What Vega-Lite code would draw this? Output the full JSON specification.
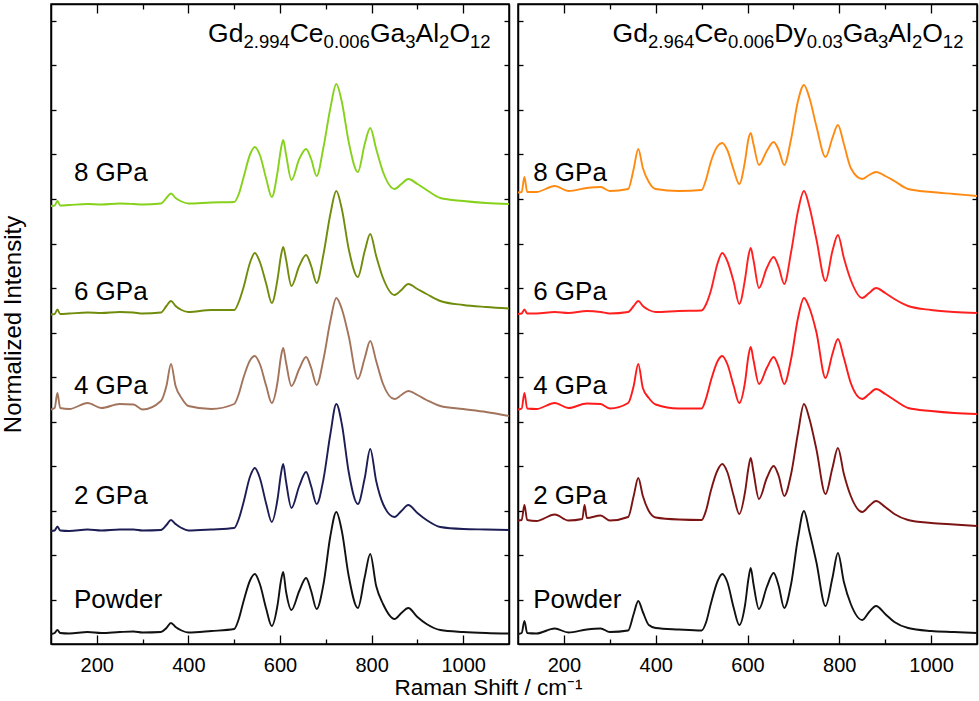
{
  "$schema": "https://vega.github.io/schema/vega-lite/v6.json",
  "padding": {"left": 0, "top": 2, "right": 3, "bottom": 0},
  "config": {
    "font": "Liberation Sans",
    "view": {"stroke": "black", "strokeWidth": 1.5},
    "axis": {
      "domainColor": "black", "domainWidth": 1.5, "tickColor": "black", "tickWidth": 1.3,
      "grid": false, "labelColor": "black", "titleColor": "black", "titleFontWeight": "normal",
      "labelFontSize": 20, "titleFontSize": 23, "labelFlush": false
    }
  },
  "datasets": {
    "left": [
      {"series":"Powder","x":100,"y":10},{"series":"Powder","x":108,"y":11},{"series":"Powder","x":114,"y":14},{"series":"Powder","x":120,"y":11},{"series":"Powder","x":140,"y":10.5},{"series":"Powder","x":180,"y":12},{"series":"Powder","x":210,"y":11},{"series":"Powder","x":250,"y":12},{"series":"Powder","x":280,"y":12.5},{"series":"Powder","x":300,"y":11.5},{"series":"Powder","x":340,"y":12},{"series":"Powder","x":352,"y":16},{"series":"Powder","x":362,"y":21},{"series":"Powder","x":372,"y":17},{"series":"Powder","x":385,"y":13.5},{"series":"Powder","x":400,"y":11.5},{"series":"Powder","x":450,"y":13},{"series":"Powder","x":500,"y":15},{"series":"Powder","x":510,"y":25},{"series":"Powder","x":520,"y":42},{"series":"Powder","x":535,"y":64},{"series":"Powder","x":545,"y":70},{"series":"Powder","x":556,"y":60},{"series":"Powder","x":570,"y":35},{"series":"Powder","x":582,"y":18},{"series":"Powder","x":595,"y":40},{"series":"Powder","x":602,"y":63},{"series":"Powder","x":607,"y":72},{"series":"Powder","x":613,"y":53},{"series":"Powder","x":625,"y":34},{"series":"Powder","x":642,"y":53},{"series":"Powder","x":657,"y":66},{"series":"Powder","x":668,"y":53},{"series":"Powder","x":680,"y":35},{"series":"Powder","x":695,"y":60},{"series":"Powder","x":710,"y":108},{"series":"Powder","x":723,"y":132},{"series":"Powder","x":735,"y":113},{"series":"Powder","x":750,"y":68},{"series":"Powder","x":770,"y":36},{"series":"Powder","x":785,"y":67},{"series":"Powder","x":797,"y":90},{"series":"Powder","x":810,"y":58},{"series":"Powder","x":825,"y":40},{"series":"Powder","x":850,"y":25},{"series":"Powder","x":865,"y":31},{"series":"Powder","x":880,"y":36},{"series":"Powder","x":900,"y":27},{"series":"Powder","x":920,"y":20},{"series":"Powder","x":950,"y":14},{"series":"Powder","x":1000,"y":12},{"series":"Powder","x":1050,"y":11},{"series":"Powder","x":1100,"y":10.5},
      {"series":"2 GPa","x":100,"y":113},{"series":"2 GPa","x":108,"y":113.5},{"series":"2 GPa","x":114,"y":117.5},{"series":"2 GPa","x":120,"y":113.5},{"series":"2 GPa","x":140,"y":113},{"series":"2 GPa","x":180,"y":114.5},{"series":"2 GPa","x":210,"y":113.5},{"series":"2 GPa","x":250,"y":114.5},{"series":"2 GPa","x":280,"y":114.5},{"series":"2 GPa","x":300,"y":113.5},{"series":"2 GPa","x":340,"y":114},{"series":"2 GPa","x":352,"y":119},{"series":"2 GPa","x":362,"y":124},{"series":"2 GPa","x":372,"y":120},{"series":"2 GPa","x":385,"y":116},{"series":"2 GPa","x":400,"y":113.5},{"series":"2 GPa","x":450,"y":114.5},{"series":"2 GPa","x":500,"y":116},{"series":"2 GPa","x":510,"y":125},{"series":"2 GPa","x":520,"y":141},{"series":"2 GPa","x":535,"y":168},{"series":"2 GPa","x":545,"y":176},{"series":"2 GPa","x":556,"y":166},{"series":"2 GPa","x":570,"y":140},{"series":"2 GPa","x":582,"y":122},{"series":"2 GPa","x":595,"y":146},{"series":"2 GPa","x":602,"y":170},{"series":"2 GPa","x":607,"y":180},{"series":"2 GPa","x":613,"y":163},{"series":"2 GPa","x":625,"y":136},{"series":"2 GPa","x":642,"y":158},{"series":"2 GPa","x":657,"y":172},{"series":"2 GPa","x":668,"y":158},{"series":"2 GPa","x":680,"y":140},{"series":"2 GPa","x":695,"y":165},{"series":"2 GPa","x":710,"y":210},{"series":"2 GPa","x":723,"y":240},{"series":"2 GPa","x":735,"y":220},{"series":"2 GPa","x":750,"y":172},{"series":"2 GPa","x":770,"y":140},{"series":"2 GPa","x":785,"y":166},{"series":"2 GPa","x":797,"y":195},{"series":"2 GPa","x":810,"y":163},{"series":"2 GPa","x":825,"y":140},{"series":"2 GPa","x":850,"y":127},{"series":"2 GPa","x":865,"y":133},{"series":"2 GPa","x":880,"y":139},{"series":"2 GPa","x":900,"y":131},{"series":"2 GPa","x":920,"y":124},{"series":"2 GPa","x":950,"y":117},{"series":"2 GPa","x":1000,"y":115},{"series":"2 GPa","x":1050,"y":114.5},{"series":"2 GPa","x":1100,"y":114},
      {"series":"4 GPa","x":100,"y":234.5},{"series":"4 GPa","x":108,"y":236},{"series":"4 GPa","x":114,"y":251},{"series":"4 GPa","x":120,"y":236},{"series":"4 GPa","x":140,"y":235},{"series":"4 GPa","x":180,"y":241},{"series":"4 GPa","x":210,"y":236},{"series":"4 GPa","x":250,"y":240},{"series":"4 GPa","x":280,"y":239.5},{"series":"4 GPa","x":300,"y":234.5},{"series":"4 GPa","x":340,"y":243},{"series":"4 GPa","x":352,"y":258},{"series":"4 GPa","x":362,"y":280},{"series":"4 GPa","x":372,"y":258},{"series":"4 GPa","x":385,"y":246},{"series":"4 GPa","x":400,"y":238},{"series":"4 GPa","x":450,"y":235},{"series":"4 GPa","x":500,"y":240},{"series":"4 GPa","x":510,"y":250},{"series":"4 GPa","x":520,"y":266},{"series":"4 GPa","x":535,"y":284},{"series":"4 GPa","x":545,"y":288},{"series":"4 GPa","x":556,"y":280},{"series":"4 GPa","x":570,"y":258},{"series":"4 GPa","x":582,"y":241},{"series":"4 GPa","x":595,"y":263},{"series":"4 GPa","x":602,"y":287},{"series":"4 GPa","x":607,"y":296},{"series":"4 GPa","x":613,"y":282},{"series":"4 GPa","x":625,"y":258},{"series":"4 GPa","x":642,"y":275},{"series":"4 GPa","x":657,"y":287},{"series":"4 GPa","x":668,"y":276},{"series":"4 GPa","x":680,"y":259},{"series":"4 GPa","x":695,"y":285},{"series":"4 GPa","x":710,"y":323},{"series":"4 GPa","x":723,"y":346},{"series":"4 GPa","x":735,"y":335},{"series":"4 GPa","x":750,"y":308},{"series":"4 GPa","x":770,"y":265},{"series":"4 GPa","x":785,"y":286},{"series":"4 GPa","x":797,"y":303},{"series":"4 GPa","x":810,"y":283},{"series":"4 GPa","x":825,"y":260},{"series":"4 GPa","x":850,"y":245},{"series":"4 GPa","x":865,"y":249},{"series":"4 GPa","x":880,"y":253},{"series":"4 GPa","x":900,"y":249},{"series":"4 GPa","x":920,"y":244},{"series":"4 GPa","x":950,"y":238},{"series":"4 GPa","x":1000,"y":235},{"series":"4 GPa","x":1050,"y":232},{"series":"4 GPa","x":1100,"y":228},
      {"series":"6 GPa","x":100,"y":329.5},{"series":"6 GPa","x":108,"y":330},{"series":"6 GPa","x":114,"y":334.5},{"series":"6 GPa","x":120,"y":330},{"series":"6 GPa","x":140,"y":330.5},{"series":"6 GPa","x":180,"y":331.5},{"series":"6 GPa","x":210,"y":331},{"series":"6 GPa","x":250,"y":332},{"series":"6 GPa","x":280,"y":331.5},{"series":"6 GPa","x":300,"y":330.5},{"series":"6 GPa","x":340,"y":331.5},{"series":"6 GPa","x":352,"y":338},{"series":"6 GPa","x":362,"y":343},{"series":"6 GPa","x":372,"y":338},{"series":"6 GPa","x":385,"y":334},{"series":"6 GPa","x":400,"y":332},{"series":"6 GPa","x":450,"y":334},{"series":"6 GPa","x":500,"y":334},{"series":"6 GPa","x":510,"y":342},{"series":"6 GPa","x":520,"y":356},{"series":"6 GPa","x":535,"y":382},{"series":"6 GPa","x":545,"y":391},{"series":"6 GPa","x":556,"y":382},{"series":"6 GPa","x":570,"y":360},{"series":"6 GPa","x":582,"y":341},{"series":"6 GPa","x":595,"y":366},{"series":"6 GPa","x":602,"y":388},{"series":"6 GPa","x":607,"y":397},{"series":"6 GPa","x":613,"y":385},{"series":"6 GPa","x":625,"y":358},{"series":"6 GPa","x":642,"y":378},{"series":"6 GPa","x":657,"y":389},{"series":"6 GPa","x":668,"y":378},{"series":"6 GPa","x":680,"y":361},{"series":"6 GPa","x":695,"y":390},{"series":"6 GPa","x":710,"y":430},{"series":"6 GPa","x":723,"y":453},{"series":"6 GPa","x":735,"y":435},{"series":"6 GPa","x":750,"y":395},{"series":"6 GPa","x":770,"y":367},{"series":"6 GPa","x":785,"y":393},{"series":"6 GPa","x":797,"y":410},{"series":"6 GPa","x":810,"y":388},{"series":"6 GPa","x":825,"y":366},{"series":"6 GPa","x":850,"y":349},{"series":"6 GPa","x":865,"y":354},{"series":"6 GPa","x":880,"y":360},{"series":"6 GPa","x":900,"y":355},{"series":"6 GPa","x":920,"y":350},{"series":"6 GPa","x":950,"y":343},{"series":"6 GPa","x":1000,"y":339},{"series":"6 GPa","x":1050,"y":337},{"series":"6 GPa","x":1100,"y":335.5},
      {"series":"8 GPa","x":100,"y":438},{"series":"8 GPa","x":108,"y":438.5},{"series":"8 GPa","x":114,"y":443},{"series":"8 GPa","x":120,"y":438.5},{"series":"8 GPa","x":140,"y":439},{"series":"8 GPa","x":180,"y":440},{"series":"8 GPa","x":210,"y":439.5},{"series":"8 GPa","x":250,"y":440.5},{"series":"8 GPa","x":280,"y":440},{"series":"8 GPa","x":300,"y":439.5},{"series":"8 GPa","x":340,"y":440.5},{"series":"8 GPa","x":352,"y":446},{"series":"8 GPa","x":362,"y":450.5},{"series":"8 GPa","x":372,"y":446},{"series":"8 GPa","x":385,"y":442.5},{"series":"8 GPa","x":400,"y":440.5},{"series":"8 GPa","x":450,"y":441.5},{"series":"8 GPa","x":500,"y":442},{"series":"8 GPa","x":510,"y":450},{"series":"8 GPa","x":520,"y":466},{"series":"8 GPa","x":535,"y":490},{"series":"8 GPa","x":545,"y":497},{"series":"8 GPa","x":556,"y":489},{"series":"8 GPa","x":570,"y":465},{"series":"8 GPa","x":582,"y":447},{"series":"8 GPa","x":595,"y":473},{"series":"8 GPa","x":602,"y":495},{"series":"8 GPa","x":607,"y":504},{"series":"8 GPa","x":613,"y":490},{"series":"8 GPa","x":625,"y":464},{"series":"8 GPa","x":642,"y":485},{"series":"8 GPa","x":657,"y":495},{"series":"8 GPa","x":668,"y":485},{"series":"8 GPa","x":680,"y":468},{"series":"8 GPa","x":695,"y":497},{"series":"8 GPa","x":710,"y":536},{"series":"8 GPa","x":723,"y":560},{"series":"8 GPa","x":735,"y":542},{"series":"8 GPa","x":750,"y":502},{"series":"8 GPa","x":770,"y":472},{"series":"8 GPa","x":785,"y":500},{"series":"8 GPa","x":797,"y":516},{"series":"8 GPa","x":810,"y":495},{"series":"8 GPa","x":825,"y":472},{"series":"8 GPa","x":850,"y":455},{"series":"8 GPa","x":865,"y":460},{"series":"8 GPa","x":880,"y":465},{"series":"8 GPa","x":900,"y":460},{"series":"8 GPa","x":920,"y":454},{"series":"8 GPa","x":950,"y":446},{"series":"8 GPa","x":1000,"y":443},{"series":"8 GPa","x":1050,"y":441},{"series":"8 GPa","x":1100,"y":440}
    ],
    "right": [
      {"series":"Powder","x":100,"y":10},{"series":"Powder","x":108,"y":11},{"series":"Powder","x":114,"y":23},{"series":"Powder","x":120,"y":11},{"series":"Powder","x":140,"y":10.5},{"series":"Powder","x":180,"y":15.5},{"series":"Powder","x":210,"y":11.5},{"series":"Powder","x":250,"y":14.5},{"series":"Powder","x":280,"y":15.5},{"series":"Powder","x":300,"y":12},{"series":"Powder","x":340,"y":13.5},{"series":"Powder","x":352,"y":30},{"series":"Powder","x":362,"y":43},{"series":"Powder","x":372,"y":32},{"series":"Powder","x":385,"y":19},{"series":"Powder","x":400,"y":16},{"series":"Powder","x":450,"y":14.5},{"series":"Powder","x":500,"y":13.5},{"series":"Powder","x":510,"y":22},{"series":"Powder","x":520,"y":40},{"series":"Powder","x":535,"y":63},{"series":"Powder","x":545,"y":70},{"series":"Powder","x":556,"y":62},{"series":"Powder","x":570,"y":36},{"series":"Powder","x":582,"y":19},{"series":"Powder","x":595,"y":40},{"series":"Powder","x":602,"y":65},{"series":"Powder","x":607,"y":76},{"series":"Powder","x":613,"y":60},{"series":"Powder","x":625,"y":35},{"series":"Powder","x":642,"y":57},{"series":"Powder","x":657,"y":71},{"series":"Powder","x":668,"y":58},{"series":"Powder","x":680,"y":36},{"series":"Powder","x":695,"y":60},{"series":"Powder","x":710,"y":106},{"series":"Powder","x":723,"y":133},{"series":"Powder","x":735,"y":112},{"series":"Powder","x":750,"y":82},{"series":"Powder","x":770,"y":38},{"series":"Powder","x":785,"y":66},{"series":"Powder","x":797,"y":91},{"series":"Powder","x":810,"y":62},{"series":"Powder","x":825,"y":40},{"series":"Powder","x":850,"y":24},{"series":"Powder","x":865,"y":32},{"series":"Powder","x":880,"y":38},{"series":"Powder","x":900,"y":30},{"series":"Powder","x":920,"y":22},{"series":"Powder","x":950,"y":16},{"series":"Powder","x":1000,"y":13},{"series":"Powder","x":1050,"y":12},{"series":"Powder","x":1100,"y":11},
      {"series":"2 GPa","x":100,"y":123.5},{"series":"2 GPa","x":108,"y":124},{"series":"2 GPa","x":114,"y":139},{"series":"2 GPa","x":120,"y":124},{"series":"2 GPa","x":140,"y":123},{"series":"2 GPa","x":180,"y":129.5},{"series":"2 GPa","x":210,"y":123.5},{"series":"2 GPa","x":240,"y":125},{"series":"2 GPa","x":245,"y":139},{"series":"2 GPa","x":250,"y":126},{"series":"2 GPa","x":280,"y":128.5},{"series":"2 GPa","x":300,"y":123.5},{"series":"2 GPa","x":340,"y":127},{"series":"2 GPa","x":352,"y":148},{"series":"2 GPa","x":362,"y":166},{"series":"2 GPa","x":372,"y":148},{"series":"2 GPa","x":385,"y":133},{"series":"2 GPa","x":400,"y":126.5},{"series":"2 GPa","x":450,"y":124.5},{"series":"2 GPa","x":500,"y":124},{"series":"2 GPa","x":510,"y":134},{"series":"2 GPa","x":520,"y":153},{"series":"2 GPa","x":535,"y":174},{"series":"2 GPa","x":545,"y":180},{"series":"2 GPa","x":556,"y":172},{"series":"2 GPa","x":570,"y":148},{"series":"2 GPa","x":582,"y":130},{"series":"2 GPa","x":595,"y":153},{"series":"2 GPa","x":602,"y":176},{"series":"2 GPa","x":607,"y":186},{"series":"2 GPa","x":613,"y":172},{"series":"2 GPa","x":625,"y":145},{"series":"2 GPa","x":642,"y":166},{"series":"2 GPa","x":657,"y":178},{"series":"2 GPa","x":668,"y":168},{"series":"2 GPa","x":680,"y":148},{"series":"2 GPa","x":695,"y":170},{"series":"2 GPa","x":710,"y":211},{"series":"2 GPa","x":723,"y":240},{"series":"2 GPa","x":735,"y":225},{"series":"2 GPa","x":750,"y":195},{"series":"2 GPa","x":770,"y":150},{"series":"2 GPa","x":785,"y":176},{"series":"2 GPa","x":797,"y":196},{"series":"2 GPa","x":810,"y":170},{"series":"2 GPa","x":825,"y":148},{"series":"2 GPa","x":850,"y":132},{"series":"2 GPa","x":865,"y":138},{"series":"2 GPa","x":880,"y":143},{"series":"2 GPa","x":900,"y":137},{"series":"2 GPa","x":920,"y":130},{"series":"2 GPa","x":950,"y":124},{"series":"2 GPa","x":1000,"y":121},{"series":"2 GPa","x":1050,"y":119.5},{"series":"2 GPa","x":1100,"y":118},
      {"series":"4 GPa","x":100,"y":234.5},{"series":"4 GPa","x":108,"y":235.5},{"series":"4 GPa","x":114,"y":251},{"series":"4 GPa","x":120,"y":235.5},{"series":"4 GPa","x":140,"y":235},{"series":"4 GPa","x":180,"y":241},{"series":"4 GPa","x":210,"y":236},{"series":"4 GPa","x":250,"y":240.5},{"series":"4 GPa","x":280,"y":240},{"series":"4 GPa","x":300,"y":235.5},{"series":"4 GPa","x":340,"y":241},{"series":"4 GPa","x":352,"y":258},{"series":"4 GPa","x":362,"y":280},{"series":"4 GPa","x":372,"y":256},{"series":"4 GPa","x":385,"y":246},{"series":"4 GPa","x":400,"y":239.5},{"series":"4 GPa","x":450,"y":235.5},{"series":"4 GPa","x":500,"y":235.5},{"series":"4 GPa","x":510,"y":246},{"series":"4 GPa","x":520,"y":263},{"series":"4 GPa","x":535,"y":283},{"series":"4 GPa","x":545,"y":288},{"series":"4 GPa","x":556,"y":280},{"series":"4 GPa","x":570,"y":258},{"series":"4 GPa","x":582,"y":241},{"series":"4 GPa","x":595,"y":263},{"series":"4 GPa","x":602,"y":288},{"series":"4 GPa","x":607,"y":297},{"series":"4 GPa","x":613,"y":284},{"series":"4 GPa","x":625,"y":260},{"series":"4 GPa","x":642,"y":276},{"series":"4 GPa","x":657,"y":287},{"series":"4 GPa","x":668,"y":277},{"series":"4 GPa","x":680,"y":260},{"series":"4 GPa","x":695,"y":285},{"series":"4 GPa","x":710,"y":326},{"series":"4 GPa","x":723,"y":346},{"series":"4 GPa","x":735,"y":336},{"series":"4 GPa","x":750,"y":312},{"series":"4 GPa","x":770,"y":266},{"series":"4 GPa","x":785,"y":290},{"series":"4 GPa","x":797,"y":305},{"series":"4 GPa","x":810,"y":286},{"series":"4 GPa","x":825,"y":261},{"series":"4 GPa","x":850,"y":245},{"series":"4 GPa","x":865,"y":250},{"series":"4 GPa","x":880,"y":255},{"series":"4 GPa","x":900,"y":250},{"series":"4 GPa","x":920,"y":244},{"series":"4 GPa","x":950,"y":236},{"series":"4 GPa","x":1000,"y":233},{"series":"4 GPa","x":1050,"y":231},{"series":"4 GPa","x":1100,"y":230},
      {"series":"6 GPa","x":100,"y":330},{"series":"6 GPa","x":108,"y":330.5},{"series":"6 GPa","x":114,"y":334.5},{"series":"6 GPa","x":120,"y":330.5},{"series":"6 GPa","x":140,"y":330.5},{"series":"6 GPa","x":180,"y":332},{"series":"6 GPa","x":210,"y":331},{"series":"6 GPa","x":250,"y":333},{"series":"6 GPa","x":280,"y":332},{"series":"6 GPa","x":300,"y":330.5},{"series":"6 GPa","x":340,"y":332},{"series":"6 GPa","x":352,"y":338},{"series":"6 GPa","x":362,"y":343},{"series":"6 GPa","x":372,"y":338},{"series":"6 GPa","x":385,"y":334},{"series":"6 GPa","x":400,"y":332},{"series":"6 GPa","x":450,"y":333},{"series":"6 GPa","x":500,"y":333.5},{"series":"6 GPa","x":510,"y":340},{"series":"6 GPa","x":520,"y":353},{"series":"6 GPa","x":535,"y":381},{"series":"6 GPa","x":545,"y":391},{"series":"6 GPa","x":556,"y":383},{"series":"6 GPa","x":570,"y":362},{"series":"6 GPa","x":582,"y":340},{"series":"6 GPa","x":595,"y":366},{"series":"6 GPa","x":602,"y":388},{"series":"6 GPa","x":607,"y":396},{"series":"6 GPa","x":613,"y":384},{"series":"6 GPa","x":625,"y":356},{"series":"6 GPa","x":642,"y":376},{"series":"6 GPa","x":657,"y":387},{"series":"6 GPa","x":668,"y":377},{"series":"6 GPa","x":680,"y":360},{"series":"6 GPa","x":695,"y":392},{"series":"6 GPa","x":710,"y":433},{"series":"6 GPa","x":723,"y":453},{"series":"6 GPa","x":735,"y":437},{"series":"6 GPa","x":750,"y":405},{"series":"6 GPa","x":770,"y":363},{"series":"6 GPa","x":785,"y":393},{"series":"6 GPa","x":797,"y":409},{"series":"6 GPa","x":810,"y":386},{"series":"6 GPa","x":825,"y":364},{"series":"6 GPa","x":850,"y":346},{"series":"6 GPa","x":865,"y":351},{"series":"6 GPa","x":880,"y":356},{"series":"6 GPa","x":900,"y":351},{"series":"6 GPa","x":920,"y":345},{"series":"6 GPa","x":950,"y":338},{"series":"6 GPa","x":1000,"y":334},{"series":"6 GPa","x":1050,"y":332},{"series":"6 GPa","x":1100,"y":331},
      {"series":"8 GPa","x":100,"y":451.5},{"series":"8 GPa","x":108,"y":452},{"series":"8 GPa","x":114,"y":467},{"series":"8 GPa","x":120,"y":452},{"series":"8 GPa","x":140,"y":452},{"series":"8 GPa","x":180,"y":458},{"series":"8 GPa","x":210,"y":453},{"series":"8 GPa","x":250,"y":456},{"series":"8 GPa","x":280,"y":457},{"series":"8 GPa","x":300,"y":453},{"series":"8 GPa","x":340,"y":455},{"series":"8 GPa","x":352,"y":475},{"series":"8 GPa","x":362,"y":495},{"series":"8 GPa","x":372,"y":476},{"series":"8 GPa","x":385,"y":462},{"series":"8 GPa","x":400,"y":455},{"series":"8 GPa","x":450,"y":453},{"series":"8 GPa","x":500,"y":454},{"series":"8 GPa","x":510,"y":465},{"series":"8 GPa","x":520,"y":482},{"series":"8 GPa","x":535,"y":498},{"series":"8 GPa","x":545,"y":501},{"series":"8 GPa","x":556,"y":494},{"series":"8 GPa","x":570,"y":474},{"series":"8 GPa","x":582,"y":460},{"series":"8 GPa","x":595,"y":484},{"series":"8 GPa","x":602,"y":505},{"series":"8 GPa","x":607,"y":511},{"series":"8 GPa","x":613,"y":500},{"series":"8 GPa","x":625,"y":479},{"series":"8 GPa","x":642,"y":493},{"series":"8 GPa","x":657,"y":502},{"series":"8 GPa","x":668,"y":494},{"series":"8 GPa","x":680,"y":479},{"series":"8 GPa","x":695,"y":505},{"series":"8 GPa","x":710,"y":543},{"series":"8 GPa","x":723,"y":559},{"series":"8 GPa","x":735,"y":546},{"series":"8 GPa","x":750,"y":518},{"series":"8 GPa","x":770,"y":487},{"series":"8 GPa","x":785,"y":506},{"series":"8 GPa","x":797,"y":519},{"series":"8 GPa","x":810,"y":500},{"series":"8 GPa","x":825,"y":476},{"series":"8 GPa","x":850,"y":465},{"series":"8 GPa","x":865,"y":469},{"series":"8 GPa","x":880,"y":472},{"series":"8 GPa","x":900,"y":468},{"series":"8 GPa","x":920,"y":463},{"series":"8 GPa","x":950,"y":455},{"series":"8 GPa","x":1000,"y":452},{"series":"8 GPa","x":1050,"y":450},{"series":"8 GPa","x":1100,"y":448}
    ],
    "labels_left": [
      {"label":"8 GPa","x":150,"y":463},{"label":"6 GPa","x":150,"y":344},{"label":"4 GPa","x":150,"y":250},{"label":"2 GPa","x":150,"y":140},{"label":"Powder","x":150,"y":36}
    ],
    "labels_right": [
      {"label":"8 GPa","x":133,"y":463},{"label":"6 GPa","x":133,"y":344},{"label":"4 GPa","x":133,"y":250},{"label":"2 GPa","x":133,"y":140},{"label":"Powder","x":133,"y":36}
    ],
    "one": [{}]
  },
  "spacing": 9,
  "bounds": "flush",
  "resolve": {"scale": {"color": "independent"}},
  "hconcat": [
    {
      "width": 458,
      "height": 640,
      "resolve": {"axis": {"x": "independent", "y": "independent"}},
      "encoding": {
        "x": {"type": "quantitative", "scale": {"domain": [100, 1100], "nice": false, "zero": false}},
        "y": {"type": "quantitative", "scale": {"domain": [0, 640], "nice": false}}
      },
      "layer": [
        {
          "data": {"name": "left"},
          "mark": {"type": "line", "strokeWidth": 1.9, "interpolate": "monotone"},
          "encoding": {
            "x": {"field": "x", "type": "quantitative",
              "axis": {"orient": "bottom", "values": [200, 300, 400, 500, 600, 700, 800, 900, 1000], "format": "d",
                "tickSize": {"condition": {"test": "datum.value % 200 === 0", "value": -9}, "value": -5},
                "labelExpr": "datum.value % 200 === 0 ? datum.label : ''", "labelPadding": 20, "labelFontSize": 20,
                "title": "Raman Shift / cm⁻¹", "titleFontSize": 22.5, "titleX": 437, "titleY": 50, "titleAlign": "center", "titleBaseline": "alphabetic"}},
            "y": {"field": "y", "type": "quantitative",
              "axis": {"orient": "left", "values": [44.5, 89, 133.5, 178, 222.5, 267, 311.5, 356, 400.5, 445, 489.5, 534, 578.5, 623],
                "tickSize": -5, "labels": false, "title": "Normalized Intensity", "titleFontSize": 24, "titlePadding": 25}},
            "color": {"field": "series", "type": "nominal", "legend": null,
              "scale": {"domain": ["Powder", "2 GPa", "4 GPa", "6 GPa", "8 GPa"], "range": ["#111111", "#1d1d55", "#a3745c", "#708c0c", "#86d11a"]}}
          }
        },
        {
          "data": {"name": "labels_left"},
          "mark": {"type": "text", "align": "left", "baseline": "alphabetic", "fontSize": 26, "color": "black"},
          "encoding": {
            "x": {"field": "x", "type": "quantitative",
              "axis": {"orient": "top", "values": [200, 300, 400, 500, 600, 700, 800, 900, 1000],
                "tickSize": {"condition": {"test": "datum.value % 200 === 0", "value": -9}, "value": -5},
                "labels": false, "title": null}},
            "y": {"field": "y", "type": "quantitative",
              "axis": {"orient": "right", "values": [44.5, 89, 133.5, 178, 222.5, 267, 311.5, 356, 400.5, 445, 489.5, 534, 578.5, 623],
                "tickSize": -5, "labels": false, "title": null}},
            "text": {"field": "label"}
          }
        },
        {
          "data": {"name": "one"},
          "encoding": {"x": {"datum": 443, "axis": null}, "y": {"datum": 602, "axis": null}},
          "layer": [
            {"mark": {"type": "text", "text": "Gd", "align": "left", "baseline": "alphabetic", "fontSize": 26.5, "dx": 0}},
            {"mark": {"type": "text", "text": "2.994", "align": "left", "baseline": "alphabetic", "fontSize": 18.5, "dx": 35.4, "dy": 5.5}},
            {"mark": {"type": "text", "text": "Ce", "align": "left", "baseline": "alphabetic", "fontSize": 26.5, "dx": 81.6}},
            {"mark": {"type": "text", "text": "0.006", "align": "left", "baseline": "alphabetic", "fontSize": 18.5, "dx": 115.5, "dy": 5.5}},
            {"mark": {"type": "text", "text": "Ga", "align": "left", "baseline": "alphabetic", "fontSize": 26.5, "dx": 161.8}},
            {"mark": {"type": "text", "text": "3", "align": "left", "baseline": "alphabetic", "fontSize": 18.5, "dx": 197.2, "dy": 5.5}},
            {"mark": {"type": "text", "text": "Al", "align": "left", "baseline": "alphabetic", "fontSize": 26.5, "dx": 207.4}},
            {"mark": {"type": "text", "text": "2", "align": "left", "baseline": "alphabetic", "fontSize": 18.5, "dx": 231.0, "dy": 5.5}},
            {"mark": {"type": "text", "text": "O", "align": "left", "baseline": "alphabetic", "fontSize": 26.5, "dx": 241.3}},
            {"mark": {"type": "text", "text": "12", "align": "left", "baseline": "alphabetic", "fontSize": 18.5, "dx": 261.9, "dy": 5.5}}
          ]
        }
      ]
    },
    {
      "width": 459,
      "height": 640,
      "resolve": {"axis": {"x": "independent", "y": "independent"}},
      "encoding": {
        "x": {"type": "quantitative", "scale": {"domain": [100, 1100], "nice": false, "zero": false}},
        "y": {"type": "quantitative", "scale": {"domain": [0, 640], "nice": false}}
      },
      "layer": [
        {
          "data": {"name": "right"},
          "mark": {"type": "line", "strokeWidth": 1.9, "interpolate": "monotone"},
          "encoding": {
            "x": {"field": "x", "type": "quantitative",
              "axis": {"orient": "bottom", "values": [200, 300, 400, 500, 600, 700, 800, 900, 1000], "format": "d",
                "tickSize": {"condition": {"test": "datum.value % 200 === 0", "value": -9}, "value": -5},
                "labelExpr": "datum.value % 200 === 0 ? datum.label : ''", "labelPadding": 20, "labelFontSize": 20, "title": null}},
            "y": {"field": "y", "type": "quantitative",
              "axis": {"orient": "left", "values": [44.5, 89, 133.5, 178, 222.5, 267, 311.5, 356, 400.5, 445, 489.5, 534, 578.5, 623],
                "tickSize": -5, "labels": false, "title": null}},
            "color": {"field": "series", "type": "nominal", "legend": null,
              "scale": {"domain": ["Powder", "2 GPa", "4 GPa", "6 GPa", "8 GPa"], "range": ["#111111", "#7c1414", "#ff1a1a", "#ff2020", "#ff8a12"]}}
          }
        },
        {
          "data": {"name": "labels_right"},
          "mark": {"type": "text", "align": "left", "baseline": "alphabetic", "fontSize": 26, "color": "black"},
          "encoding": {
            "x": {"field": "x", "type": "quantitative",
              "axis": {"orient": "top", "values": [200, 300, 400, 500, 600, 700, 800, 900, 1000],
                "tickSize": {"condition": {"test": "datum.value % 200 === 0", "value": -9}, "value": -5},
                "labels": false, "title": null}},
            "y": {"field": "y", "type": "quantitative",
              "axis": {"orient": "right", "values": [44.5, 89, 133.5, 178, 222.5, 267, 311.5, 356, 400.5, 445, 489.5, 534, 578.5, 623],
                "tickSize": -5, "labels": false, "title": null}},
            "text": {"field": "label"}
          }
        },
        {
          "data": {"name": "one"},
          "encoding": {"x": {"datum": 306, "axis": null}, "y": {"datum": 602, "axis": null}},
          "layer": [
            {"mark": {"type": "text", "text": "Gd", "align": "left", "baseline": "alphabetic", "fontSize": 26.5, "dx": 0}},
            {"mark": {"type": "text", "text": "2.964", "align": "left", "baseline": "alphabetic", "fontSize": 18.5, "dx": 35.4, "dy": 5.5}},
            {"mark": {"type": "text", "text": "Ce", "align": "left", "baseline": "alphabetic", "fontSize": 26.5, "dx": 81.6}},
            {"mark": {"type": "text", "text": "0.006", "align": "left", "baseline": "alphabetic", "fontSize": 18.5, "dx": 115.5, "dy": 5.5}},
            {"mark": {"type": "text", "text": "Dy", "align": "left", "baseline": "alphabetic", "fontSize": 26.5, "dx": 161.8}},
            {"mark": {"type": "text", "text": "0.03", "align": "left", "baseline": "alphabetic", "fontSize": 18.5, "dx": 194.2, "dy": 5.5}},
            {"mark": {"type": "text", "text": "Ga", "align": "left", "baseline": "alphabetic", "fontSize": 26.5, "dx": 230.2}},
            {"mark": {"type": "text", "text": "3", "align": "left", "baseline": "alphabetic", "fontSize": 18.5, "dx": 265.5, "dy": 5.5}},
            {"mark": {"type": "text", "text": "Al", "align": "left", "baseline": "alphabetic", "fontSize": 26.5, "dx": 275.8}},
            {"mark": {"type": "text", "text": "2", "align": "left", "baseline": "alphabetic", "fontSize": 18.5, "dx": 299.4, "dy": 5.5}},
            {"mark": {"type": "text", "text": "O", "align": "left", "baseline": "alphabetic", "fontSize": 26.5, "dx": 309.7}},
            {"mark": {"type": "text", "text": "12", "align": "left", "baseline": "alphabetic", "fontSize": 18.5, "dx": 330.3, "dy": 5.5}}
          ]
        }
      ]
    }
  ]
}
